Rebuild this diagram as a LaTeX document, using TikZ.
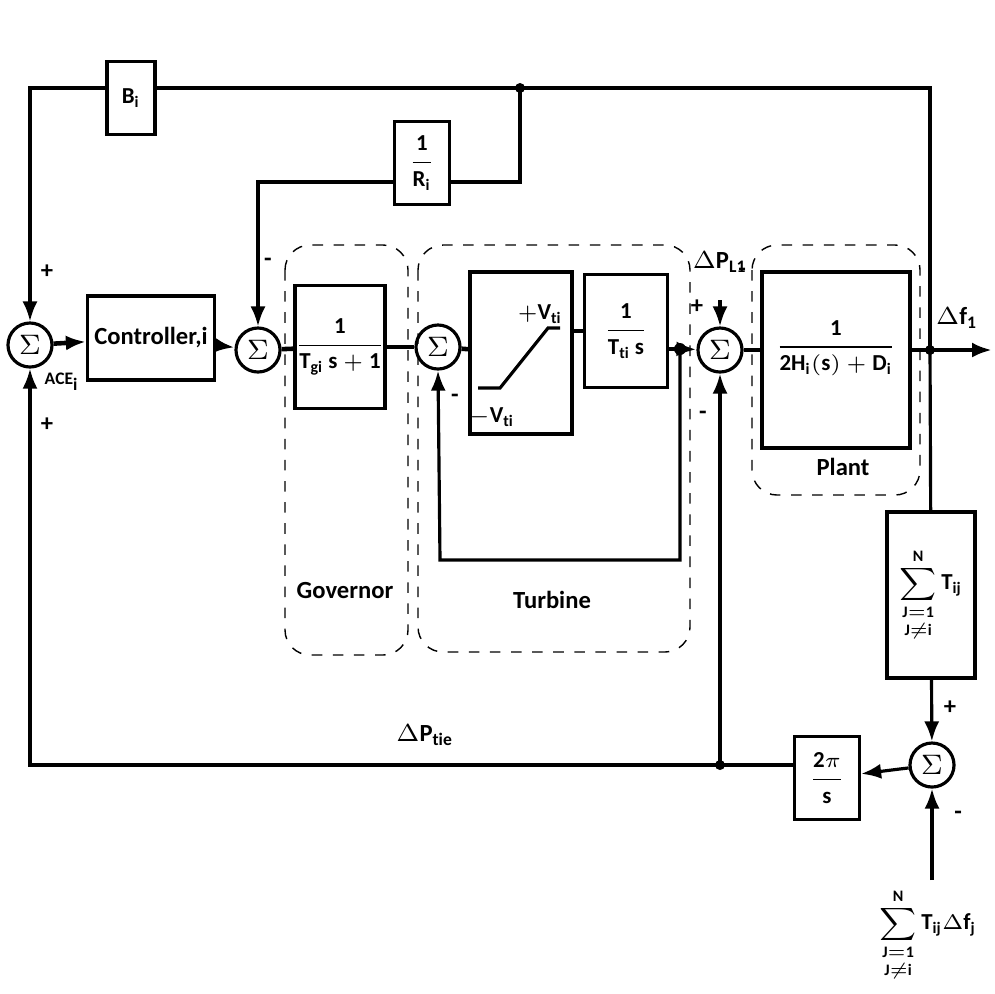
\documentclass[tikz,border=0pt]{standalone}
\usepackage{amsmath}
\usepackage{fontspec}
\setmainfont{Carlito}
\usetikzlibrary{arrows.meta}
\tikzset{
  blk/.style={draw, line width=0.9pt, inner sep=0pt},
  sumc/.style={draw, circle, line width=0.9pt, minimum size=0.44cm, inner sep=0pt, font=\bfseries\fontsize{8}{9}\selectfont},
  grp/.style={draw, dashed, rounded corners=0.25cm, thin},
  sig/.style={line width=0.9pt, -{Latex[length=2mm]}},
  fwd/.style={line width=1.3pt, -{Latex[length=2mm]}},
  lbl/.style={font=\bfseries\fontsize{7}{8}\selectfont}
}
\begin{document}
\begin{tikzpicture}[x=0.01cm, y=-0.01cm, font=\bfseries\fontsize{6.5}{7.5}\selectfont]
\useasboundingbox (0,0) rectangle (995,993);

% sums
\node[sumc] (s1) at (30,345) {$\Sigma$};
\node[sumc] (s2) at (258,350) {$\Sigma$};
\node[sumc] (s3) at (438,347) {$\Sigma$};
\node[sumc] (s4) at (720,350) {$\Sigma$};
\node[sumc] (s5) at (932,765) {$\Sigma$};

% blocks
\node[blk, minimum width=1.27cm, minimum height=0.84cm] (ctrl) at (151,338) {\fontsize{7}{8}\selectfont Controller,i};
\node[blk, minimum width=0.87cm, minimum height=1.23cm] (gov) at (340,347) {$\displaystyle\frac{\mathbf{1}}{\mathbf{T_{gi}\,s+1}}$};
\node[blk, minimum width=1.02cm, minimum height=1.62cm] (sat) at (521,353) {};
\node[blk, minimum width=0.83cm, minimum height=1.13cm] (tur) at (626,331) {$\displaystyle\frac{\mathbf{1}}{\mathbf{T_{ti}\,s}}$};
\node[blk, minimum width=1.48cm, minimum height=1.76cm] (plant) at (836,360) {};
\node at (836,348) {$\displaystyle\frac{\mathbf{1}}{\mathbf{2H_i(s)+D_i}}$};
\node[blk, minimum width=0.48cm, minimum height=0.73cm] (bb) at (131,98) {$\mathbf{B_i}$};
\node[blk, minimum width=0.55cm, minimum height=0.83cm] (rr) at (422,163) {$\displaystyle\frac{\mathbf{1}}{\mathbf{R_i}}$};
\node[blk, minimum width=0.88cm, minimum height=1.66cm] (tij) at (931,595) {$\displaystyle\sum_{\substack{\mathbf{J=1}\\ \mathbf{J\neq i}}}^{\mathbf{N}}\mathbf{T_{ij}}$};
\node[blk, minimum width=0.65cm, minimum height=0.83cm] (int) at (827,778) {$\displaystyle\frac{\mathbf{2}\pi}{\mathbf{s}}$};

% saturation curve
\draw[line width=0.9pt] (478,388) -- (500,388) -- (548,328) -- (560,328);
\node at (540,314) {$\mathbf{+V_{ti}}$};
\node at (492,417) {$\mathbf{-V_{ti}}$};

% dashed groups
\draw[grp] (285,245) rectangle (408,655);
\draw[grp] (418,245) rectangle (690,652);
\draw[grp] (752,245) rectangle (920,495);
\node[lbl] at (345,590) {Governor};
\node[lbl] at (552,600) {Turbine};
\node[lbl] at (843,467) {Plant};

% coordinates
\coordinate (d1) at (520,88);
\coordinate (d2) at (680,349);
\coordinate (d3) at (930,350);
\coordinate (d4) at (720,765);
\coordinate (out) at (992,350);
\coordinate (pl) at (720,300);
\coordinate (ext) at (932,880);
\fill (d1) circle (5); \fill (d2) circle (6); \fill (d3) circle (5); \fill (d4) circle (5);

% forward path
\draw[fwd] (s1) -- (ctrl);
\draw[fwd] (ctrl) -- (s2);
\draw[line width=1.3pt] (s2) -- (gov);
\draw[line width=1.3pt] (gov) -- (s3);
\draw[line width=1.3pt] (s3) -- (sat);
\draw[line width=1.3pt] (sat.east |- tur) -- (tur);
\draw[line width=1.3pt] (tur.east |- d2) -- (d2);
\draw[fwd] (d2) -- (s4);
\draw[line width=1.3pt] (s4) -- (plant.west |- s4);
\draw[fwd] (plant.east |- d3) -- (out);

% feedback loops
\draw[line width=0.9pt] (d3) |- (bb.east |- d1);
\draw[sig] (bb.west |- d1) -| (s1);
\draw[line width=0.9pt] (d1) |- (rr.east |- 182,182);
\draw[sig] (rr.west |- 182,182) -| (s2);
\draw[sig] (d2) |- (440,560) -- (s3.south);
\draw[sig] (pl) -- (s4);
\draw[line width=0.9pt] (d3) -- (tij);
\draw[sig] (tij) -- (s5);
\draw[sig] (ext) -- (s5);
\draw[sig] (s5) -- (int);
\draw[line width=0.9pt] (int.west |- d4) -- (d4);
\draw[sig] (d4) -- (s4);
\draw[sig] (d4) -| (s1);

% labels
\node[lbl] at (47,272) {+};
\node[lbl] at (47,425) {+};
\node at (62,382) {\fontsize{5}{6}\selectfont$\mathbf{ACE_i}$};
\node[lbl] at (268,262) {-};
\node[lbl] at (455,398) {-};
\node[lbl] at (697,307) {+};
\node[lbl] at (742,272) {-};
\node[lbl] at (703,415) {-};
\node[lbl] at (950,708) {+};
\node[lbl] at (958,815) {-};
\node[lbl] at (720,262) {$\Delta\mathbf{P_{L1}}$};
\node[lbl] at (957,318) {$\Delta\mathbf{f_1}$};
\node[lbl] at (425,735) {$\Delta\mathbf{P_{tie}}$};
\node at (928,935) {$\displaystyle\sum_{\substack{\mathbf{J=1}\\ \mathbf{J\neq i}}}^{\mathbf{N}}\mathbf{T_{ij}}\Delta\mathbf{f_j}$};
\end{tikzpicture}
\end{document}
